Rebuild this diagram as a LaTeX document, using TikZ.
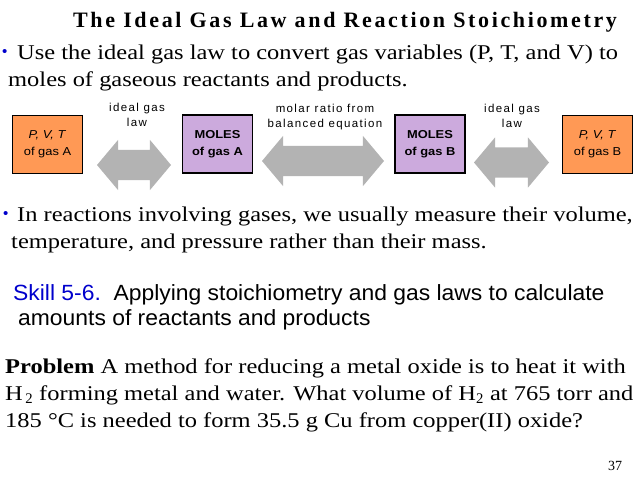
\documentclass[tikz,border=0pt]{standalone}
\usepackage{fontspec}
\setmainfont{Liberation Serif}
\setsansfont{Liberation Sans}
\newfontfamily\titlefont[LetterSpace=12]{Liberation Serif}
\newfontfamily\bodyfont[FakeStretch=1.165]{Liberation Serif}
\newfontfamily\skillfont[FakeStretch=1.04]{Liberation Sans}
\newfontfamily\labelfont[LetterSpace=12]{Liberation Sans}
\newfontfamily\boxfont[FakeStretch=1.12]{Liberation Sans}
\usepackage{tikz}
\usetikzlibrary{shapes,arrows}
\definecolor{boxorange}{RGB}{255,153,85}
\definecolor{boxpurple}{RGB}{204,170,221}
\definecolor{arrowgray}{RGB}{179,179,179}
\definecolor{skillblue}{RGB}{0,0,204}
\tikzset{
  gasbox/.style={rectangle, draw=black, minimum width=70pt, minimum height=58pt, inner sep=0pt, align=center, font=\boxfont\fontsize{11.5}{17}\selectfont},
  bigarrow/.style={double arrow, fill=arrowgray, inner sep=0pt, minimum width=0pt, double arrow head extend=10pt, double arrow tip angle=100},
  arrowlabel/.style={align=center, inner sep=0pt, font=\labelfont\fontsize{11.5}{15.5}\selectfont},
  textline/.style={anchor=base west, inner sep=0pt, font=\bodyfont\fontsize{21}{24}\selectfont},
  skillline/.style={anchor=base west, inner sep=0pt, font=\skillfont\fontsize{22}{24}\selectfont},
  dot/.style={anchor=base west, inner sep=0pt, text=skillblue, font=\sffamily\fontsize{15}{15}\selectfont}
}
\newcommand{\gasbox}[4] {\node at (#1) (#2) [gasbox, #3] {#4};}
\newcommand{\bigarrow}[3] {\node at (#1) (#2) [bigarrow, minimum height=#3] {\rule{0pt}{30pt}};}
\newcommand{\textline}[3] {\node at (#1) (#2) [textline] {#3};}

\begin{document}
\begin{tikzpicture}[x=1pt, y=-1pt]
\useasboundingbox (0,0) rectangle (640,481);
\node at (73,28) (title) [anchor=base west, inner sep=0pt, font=\titlefont\bfseries\fontsize{22}{24}\selectfont] {The Ideal Gas Law and Reaction Stoichiometry};

\node at (2,57) (dota) [dot] {•};
\textline {17,60} {use} {Use the ideal gas law to convert gas variables (P, T, and V) to};
\textline {8,87} {moles} {moles of gaseous reactants and products.};

\gasbox {47.5,144} {pvtA} {fill=boxorange, line width=0.8pt} {\textit{P, V, T}\\of gas A};
\gasbox {217.5,144} {molA} {fill=boxpurple, line width=1.4pt} {\textbf{MOLES}\\\textbf{of gas A}};
\gasbox {430,144} {molB} {fill=boxpurple, line width=1.4pt} {\textbf{MOLES}\\\textbf{of gas B}};
\gasbox {597.5,144} {pvtB} {fill=boxorange, line width=0.8pt} {\textit{P, V, T}\\of gas B};

\bigarrow {134,165} {lawA} {74pt};
\bigarrow {323,161} {ratio} {122pt};
\bigarrow {511.5,162.5} {lawB} {75pt};

\node at (137,115) (lawAtext) [arrowlabel] {ideal gas\\law};
\node at (325,117) (ratiotext) [arrowlabel] {molar ratio from\\balanced equation};
\node at (512,116) (lawBtext) [arrowlabel] {ideal gas\\law};

\node at (3,219) (dotb) [dot] {•};
\textline {17,222} {reactions} {In reactions involving gases, we usually measure their volume,};
\textline {11,248} {temperature} {temperature, and pressure rather than their mass.};

\node at (13,300) (skill) [skillline] {\textcolor{skillblue}{Skill 5-6.}\ \ Applying stoichiometry and gas laws to calculate};
\node at (18,325) (amounts) [skillline] {amounts of reactants and products};

\textline {5,373} {problem} {\textbf{Problem} A method for reducing a metal oxide is to heat it with};
\textline {5,400} {hydrogen} {H$_{\,\mathrm{2}}$ forming metal and water. What volume of H$_{\mathrm{2}}$ at 765 torr and};
\textline {5,427} {copper} {185 °C is needed to form 35.5 g Cu from copper(II) oxide?};

\node at (608,470) (page) [anchor=base west, inner sep=0pt, font=\fontsize{14}{14}\selectfont] {37};
\end{tikzpicture}
\end{document}
